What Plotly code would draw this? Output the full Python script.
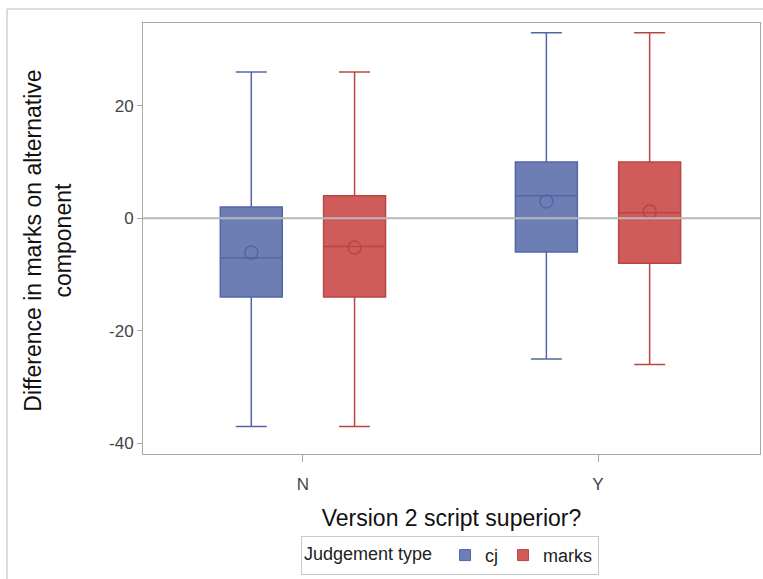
import plotly.graph_objects as go

categories = ["N", "Y"]
groups = ["cj", "marks"]

# box statistics per group, in category order (N, Y)
cj_lower = [-37, -25]
cj_q1 = [-14, -6]
cj_median = [-7, 4]
cj_q3 = [2, 10]
cj_upper = [26, 33]
cj_mean = [-6.1, 3.0]

marks_lower = [-37, -26]
marks_q1 = [-14, -8]
marks_median = [-5, 1]
marks_q3 = [4, 10]
marks_upper = [26, 33]
marks_mean = [-5.2, 1.2]

y_ticks = [-40, -20, 0, 20]
y_tick_labels = ["-40", "-20", "0", "20"]

fill_colors = {"cj": "#6D7EB5", "marks": "#D05B5B"}
line_colors = {"cj": "#5465A5", "marks": "#B94643"}
offsets = {"cj": -0.175, "marks": 0.175}

stats = {
    "cj": dict(lowerfence=cj_lower, q1=cj_q1, median=cj_median, q3=cj_q3, upperfence=cj_upper, mean=cj_mean),
    "marks": dict(lowerfence=marks_lower, q1=marks_q1, median=marks_median, q3=marks_q3, upperfence=marks_upper, mean=marks_mean),
}

fig = go.Figure()
for g in groups:
    s = stats[g]
    xs = [i + offsets[g] for i in range(len(categories))]
    fig.add_trace(go.Box(
        x=xs, q1=s["q1"], median=s["median"], q3=s["q3"],
        lowerfence=s["lowerfence"], upperfence=s["upperfence"],
        width=0.21, whiskerwidth=0.5,
        fillcolor=fill_colors[g],
        line=dict(color=line_colors[g], width=1.5),
        boxpoints=False, showlegend=False, hoverinfo="skip",
    ))
    fig.add_trace(go.Scatter(
        x=xs, y=s["mean"], mode="markers",
        marker=dict(symbol="circle-open", size=13, color=line_colors[g], line=dict(width=1.5)),
        showlegend=False, hoverinfo="skip",
    ))
    # legend entry
    fig.add_trace(go.Scatter(
        x=[None], y=[None], mode="markers", name=g,
        marker=dict(symbol="square", size=11, color=fill_colors[g], line=dict(color=line_colors[g], width=1)),
    ))

font_family = "Liberation Sans, Arial, sans-serif"

fig.update_layout(
    width=763, height=579,
    margin=dict(l=143, r=3, t=23, b=125),
    paper_bgcolor="white", plot_bgcolor="white",
    font=dict(family=font_family, color="#333333"),
    boxmode="overlay",
    xaxis=dict(
        range=[-0.542, 1.549], tickvals=[0, 1], ticktext=categories,
        showgrid=False, zeroline=False,
        showline=True, mirror=True, linecolor="#A8A8A8", linewidth=1,
        ticks="outside", ticklen=7, tickcolor="#A8A8A8",
        ticklabelstandoff=8,
        tickfont=dict(size=17, color="#444444"),
        title=dict(text="Version 2 script superior?", font=dict(size=23, color="#111111"), standoff=16),
    ),
    yaxis=dict(
        range=[-41.9, 34.72], tickvals=y_ticks, ticktext=y_tick_labels,
        showgrid=False, zeroline=False,
        showline=True, mirror=True, linecolor="#A8A8A8", linewidth=1,
        ticks="outside", ticklen=5, tickcolor="#A8A8A8",
        tickfont=dict(size=17, color="#444444"),
    ),
    legend=dict(
        orientation="h", x=0.4975, xanchor="center", y=-0.19, yanchor="top",
        bordercolor="#C8C8C8", borderwidth=1,
        title=dict(text="Judgement type ", font=dict(size=18, color="#222222")),
        font=dict(size=18, color="#222222"),
        itemwidth=30, tracegroupgap=0,
    ),
    shapes=[
        dict(type="line", xref="paper", yref="y", x0=0, x1=1, y0=0, y1=0,
             line=dict(color="#B8B8B8", width=2), layer="above"),
        dict(type="line", xref="paper", yref="paper", x0=-0.2204, x1=1.01, y0=1.0325, y1=1.0325,
             line=dict(color="#D0D0D0", width=1.5)),
        dict(type="line", xref="paper", yref="paper", x0=-0.2204, x1=-0.2204, y0=1.0325, y1=-0.3,
             line=dict(color="#D0D0D0", width=1.5)),
    ],
    annotations=[
        dict(text="Difference in marks on alternative<br>component", xref="paper", yref="paper",
             x=-0.154, y=0.495, xanchor="center", yanchor="middle", textangle=-90, showarrow=False,
             font=dict(size=23, color="#111111")),
    ],
)

fig.write_html(
    "out.html",
    config={"displayModeBar": False},
    post_script="document.body.style.margin='0';document.body.style.overflow='hidden';",
)
